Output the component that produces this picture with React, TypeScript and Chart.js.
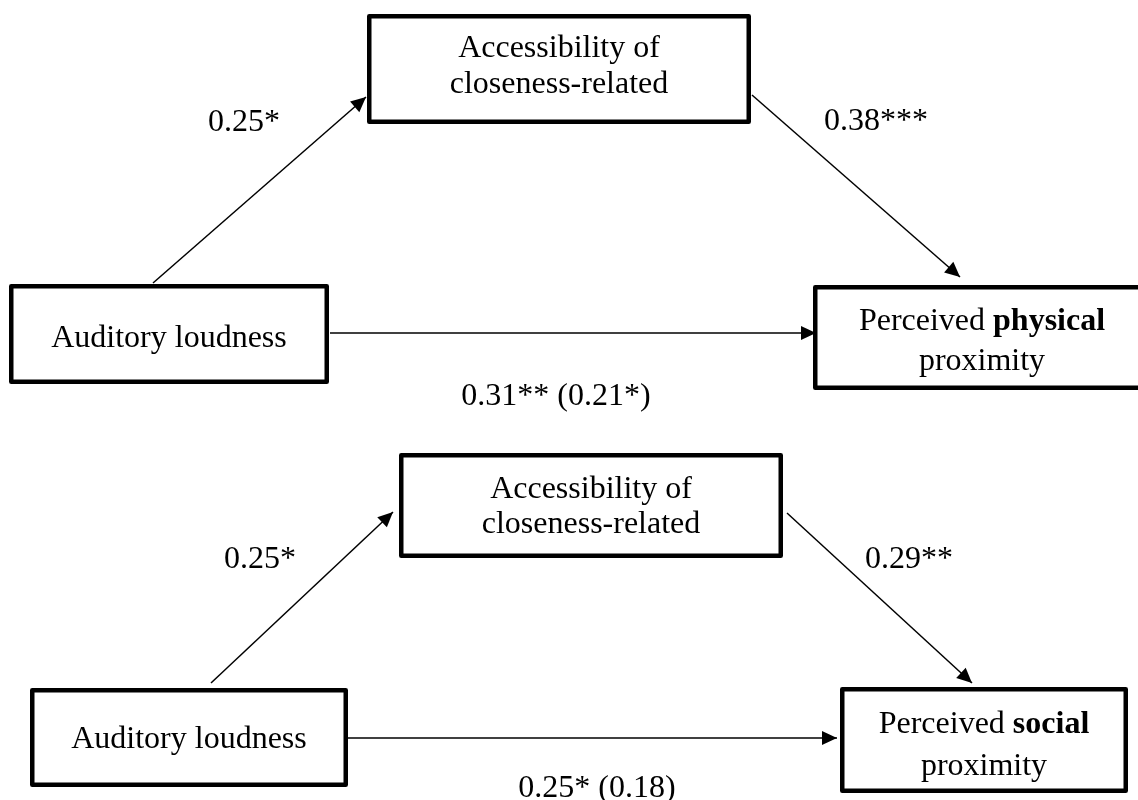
import React, { useEffect, useRef } from "react";
import { Chart, registerables } from "chart.js";

Chart.register(...registerables);

// ---------- data ----------
const predictorLabel = "Auditory loudness";
const mediatorLines = ["Accessibility of", "closeness-related"];
const outcomePrefix = "Perceived ";
const outcomeKinds = ["physical", "social"];
const outcomeSuffix = "proximity";
const pathA = ["0.25*", "0.25*"];
const pathB = ["0.38***", "0.29**"];
const pathC = ["0.31** (0.21*)", "0.25* (0.18)"];

// ---------- layout (diagram units = page pixels) ----------
type Box = { x0: number; x1: number; y0: number; y1: number; cx: number; baselines: number[] };
type Arrow = { from: [number, number]; to: [number, number] };
type Label = { cx: number; baseline: number };

const panels = [
  {
    mediator: { x0: 367, x1: 751, y0: 14, y1: 124, cx: 559, baselines: [57, 93] } as Box,
    predictor: { x0: 9, x1: 329, y0: 284, y1: 384, cx: 169, baselines: [347] } as Box,
    outcome: { x0: 813, x1: 1151, y0: 285, y1: 390, cx: 982, baselines: [330, 370] } as Box,
    arrowA: { from: [153, 283], to: [366, 97] } as Arrow,
    arrowB: { from: [752, 95], to: [960, 277] } as Arrow,
    arrowC: { from: [330, 333], to: [816, 333] } as Arrow,
    labelA: { cx: 244, baseline: 131 } as Label,
    labelB: { cx: 876, baseline: 130 } as Label,
    labelC: { cx: 556, baseline: 405 } as Label,
  },
  {
    mediator: { x0: 399, x1: 783, y0: 453, y1: 558, cx: 591, baselines: [498, 533] } as Box,
    predictor: { x0: 30, x1: 348, y0: 688, y1: 787, cx: 189, baselines: [748] } as Box,
    outcome: { x0: 840, x1: 1128, y0: 687, y1: 793, cx: 984, baselines: [733, 775] } as Box,
    arrowA: { from: [211, 683], to: [393, 512] } as Arrow,
    arrowB: { from: [787, 513], to: [972, 683] } as Arrow,
    arrowC: { from: [348, 738], to: [837, 738] } as Arrow,
    labelA: { cx: 260, baseline: 568 } as Label,
    labelB: { cx: 909, baseline: 568 } as Label,
    labelC: { cx: 597, baseline: 797 } as Label,
  },
];

const W = 1138;
const H = 800;
const FONT_SIZE = 32;
const BOX_LW = 4.5;
const ARROW_LW = 1.5;
const HEAD_LEN = 15;
const HEAD_HALF = 7;

const fontOf = (bold: boolean) =>
  `${bold ? "bold " : ""}${FONT_SIZE}px "Liberation Serif", "Times New Roman", serif`;

type Seg = { text: string; bold: boolean };

export default function App() {
  const ref = useRef<HTMLCanvasElement | null>(null);

  useEffect(() => {
    if (!ref.current) return;

    const arrowDatasets: any[] = [];
    const arrows: Arrow[] = [];
    panels.forEach((p) => {
      [p.arrowA, p.arrowB, p.arrowC].forEach((a) => {
        arrows.push(a);
        arrowDatasets.push({
          data: [
            { x: a.from[0], y: a.from[1] },
            { x: a.to[0], y: a.to[1] },
          ],
          showLine: true,
          borderColor: "#000",
          borderWidth: ARROW_LW,
          pointRadius: 0,
          fill: false,
        });
      });
    });

    const diagramPlugin = {
      id: "diagram",
      beforeDraw(chart: any) {
        const c = chart.ctx;
        c.save();
        c.fillStyle = "#fff";
        c.fillRect(0, 0, chart.width, chart.height);
        c.restore();
      },
      afterDatasetsDraw(chart: any) {
        const ctx: CanvasRenderingContext2D = chart.ctx;
        const xs = chart.scales.x;
        const ys = chart.scales.y;
        const px = (v: number) => xs.getPixelForValue(v);
        const py = (v: number) => ys.getPixelForValue(v);

        const drawSegs = (segs: Seg[], cx: number, baseline: number) => {
          let total = 0;
          segs.forEach((s) => {
            ctx.font = fontOf(s.bold);
            total += ctx.measureText(s.text).width;
          });
          let x = px(cx) - total / 2;
          ctx.textAlign = "left";
          ctx.textBaseline = "alphabetic";
          ctx.fillStyle = "#000";
          segs.forEach((s) => {
            ctx.font = fontOf(s.bold);
            ctx.fillText(s.text, x, py(baseline));
            x += ctx.measureText(s.text).width;
          });
        };

        const drawBox = (b: Box, lines: Seg[][]) => {
          const x0 = px(b.x0), x1 = px(b.x1), y0 = py(b.y0), y1 = py(b.y1);
          ctx.save();
          ctx.fillStyle = "#fff";
          ctx.fillRect(x0, y0, x1 - x0, y1 - y0);
          ctx.strokeStyle = "#000";
          ctx.lineWidth = BOX_LW;
          ctx.lineJoin = "round";
          ctx.strokeRect(x0 + BOX_LW / 2, y0 + BOX_LW / 2, x1 - x0 - BOX_LW, y1 - y0 - BOX_LW);
          ctx.restore();
          lines.forEach((segs, i) => drawSegs(segs, b.cx, b.baselines[i]));
        };

        // arrowheads
        ctx.save();
        ctx.fillStyle = "#000";
        arrows.forEach((a) => {
          const sx = px(a.from[0]), sy = py(a.from[1]);
          const tx = px(a.to[0]), ty = py(a.to[1]);
          const dx = tx - sx, dy = ty - sy;
          const len = Math.hypot(dx, dy);
          const ux = dx / len, uy = dy / len;
          const bx = tx - ux * HEAD_LEN, by = ty - uy * HEAD_LEN;
          ctx.beginPath();
          ctx.moveTo(tx, ty);
          ctx.lineTo(bx - uy * HEAD_HALF, by + ux * HEAD_HALF);
          ctx.lineTo(bx + uy * HEAD_HALF, by - ux * HEAD_HALF);
          ctx.closePath();
          ctx.fill();
        });
        ctx.restore();

        panels.forEach((p, i) => {
          drawBox(p.mediator, mediatorLines.map((t) => [{ text: t, bold: false }]));
          drawBox(p.predictor, [[{ text: predictorLabel, bold: false }]]);
          drawBox(p.outcome, [
            [
              { text: outcomePrefix, bold: false },
              { text: outcomeKinds[i], bold: true },
            ],
            [{ text: outcomeSuffix, bold: false }],
          ]);
          drawSegs([{ text: pathA[i], bold: false }], p.labelA.cx, p.labelA.baseline);
          drawSegs([{ text: pathB[i], bold: false }], p.labelB.cx, p.labelB.baseline);
          drawSegs([{ text: pathC[i], bold: false }], p.labelC.cx, p.labelC.baseline);
        });
      },
    };

    const chart = new Chart(ref.current, {
      type: "scatter",
      data: { datasets: arrowDatasets },
      options: {
        animation: false,
        responsive: false,
        maintainAspectRatio: false,
        layout: { padding: 0 },
        events: [],
        plugins: { legend: { display: false }, tooltip: { enabled: false }, title: { display: false } },
        scales: {
          x: { type: "linear", min: 0, max: W, display: false },
          y: { type: "linear", min: 0, max: H, reverse: true, display: false },
        },
      },
      plugins: [diagramPlugin],
    });
    return () => chart.destroy();
  }, []);

  return (
    <div style={{ position: "fixed", left: 0, top: 0, width: W, height: H, background: "#fff" }}>
      <canvas ref={ref} width={W} height={H} style={{ display: "block", width: W, height: H }} />
    </div>
  );
}
